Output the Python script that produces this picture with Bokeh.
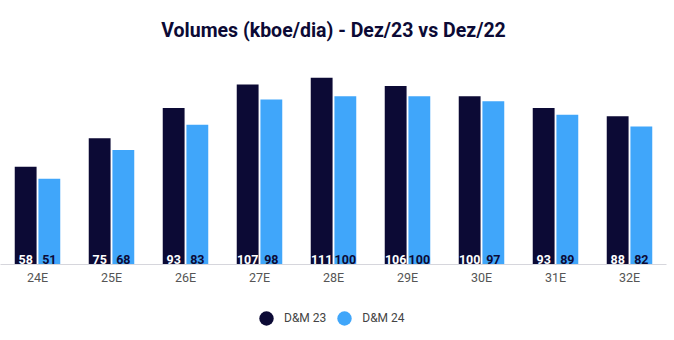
from bokeh.plotting import figure
from bokeh.layouts import column
from bokeh.models import ColumnDataSource, FactorRange, Legend, LegendItem, Range1d
from bokeh.transform import dodge
from bokeh.core.properties import value
from bokeh.embed import file_html
from bokeh.resources import INLINE

categories = ["24E", "25E", "26E", "27E", "28E", "29E", "30E", "31E", "32E"]
dm23 = [58, 75, 93, 107, 111, 106, 100, 93, 88]
dm24 = [51, 68, 83, 98, 100, 100, 97, 89, 82]
series_names = ["D&M 23", "D&M 24"]

DARK = "#0c0a35"
LIGHT = "#40a6fa"
FONT = "Roboto"

src = ColumnDataSource(dict(
    cat=categories, dm23=dm23, dm24=dm24,
    l23=[str(v) for v in dm23], l24=[str(v) for v in dm24],
    zero=[0] * len(categories),
))

p = figure(width=674, height=300, x_range=FactorRange(*categories, range_padding=0),
           y_range=Range1d(0, 120), output_backend="svg", toolbar_location=None,
           min_border_left=0, min_border_right=8, min_border_top=54, min_border_bottom=36)

p.title.text = "Volumes (kboe/dia) - Dez/23 vs Dez/22"
p.title.align = "center"
p.title.vertical_align = "top"
p.title.text_font = FONT
p.title.text_font_size = "19.5px"
p.title.text_font_style = "bold"
p.title.text_color = DARK
p.title.standoff = 37

p.vbar(x=dodge("cat", -0.16, range=p.x_range), top="dm23", width=0.295, source=src,
       fill_color=DARK, line_color=None)
p.vbar(x=dodge("cat", 0.16, range=p.x_range), top="dm24", width=0.295, source=src,
       fill_color=LIGHT, line_color=None)

p.text(x=dodge("cat", -0.16, range=p.x_range), y="zero", text="l23", source=src,
       text_align="center", text_baseline="bottom", y_offset=-1,
       text_font=value(FONT), text_font_size="12.5px", text_font_style="bold", text_color="white")
p.text(x=dodge("cat", 0.16, range=p.x_range), y="zero", text="l24", source=src,
       text_align="center", text_baseline="bottom", y_offset=-1,
       text_font=value(FONT), text_font_size="12.5px", text_font_style="bold", text_color=DARK)

p.yaxis.visible = False
p.xgrid.visible = False
p.ygrid.visible = False
p.outline_line_color = None
p.xaxis.axis_line_color = "#d6d6dc"
p.xaxis.major_tick_line_color = None
p.xaxis.minor_tick_line_color = None
p.xaxis.major_tick_out = 0
p.xaxis.major_tick_in = 0
p.xaxis.major_label_text_font = FONT
p.xaxis.major_label_text_font_size = "12.5px"
p.xaxis.major_label_text_color = "#555555"
p.xaxis.major_label_standoff = 5

# legend strip
q = figure(width=674, height=40, x_range=Range1d(0, 1), y_range=Range1d(0, 1),
           output_backend="svg", toolbar_location=None,
           min_border_left=0, min_border_right=0, min_border_top=0, min_border_bottom=0)
q.axis.visible = False
q.grid.visible = False
q.outline_line_color = None
leg_src = ColumnDataSource(dict(x=[-10], y=[-10]))
r1 = q.scatter(x="x", y="y", source=leg_src, marker="circle", size=15, fill_color=DARK, line_color=None)
r2 = q.scatter(x="x", y="y", source=leg_src, marker="circle", size=15, fill_color=LIGHT, line_color=None)
legend = Legend(items=[LegendItem(label=series_names[0], renderers=[r1]),
                       LegendItem(label=series_names[1], renderers=[r2])],
                orientation="horizontal", location=(248, 4),
                label_text_font=FONT, label_text_font_size="12px", label_text_color="#444444",
                border_line_color=None, background_fill_alpha=0,
                glyph_width=36, glyph_height=36, label_height=16, spacing=0, label_standoff=0,
                margin=0, padding=0)
q.add_layout(legend)

layout = column(p, q, spacing=0)
open("out.html", "w").write(file_html(layout, INLINE))
